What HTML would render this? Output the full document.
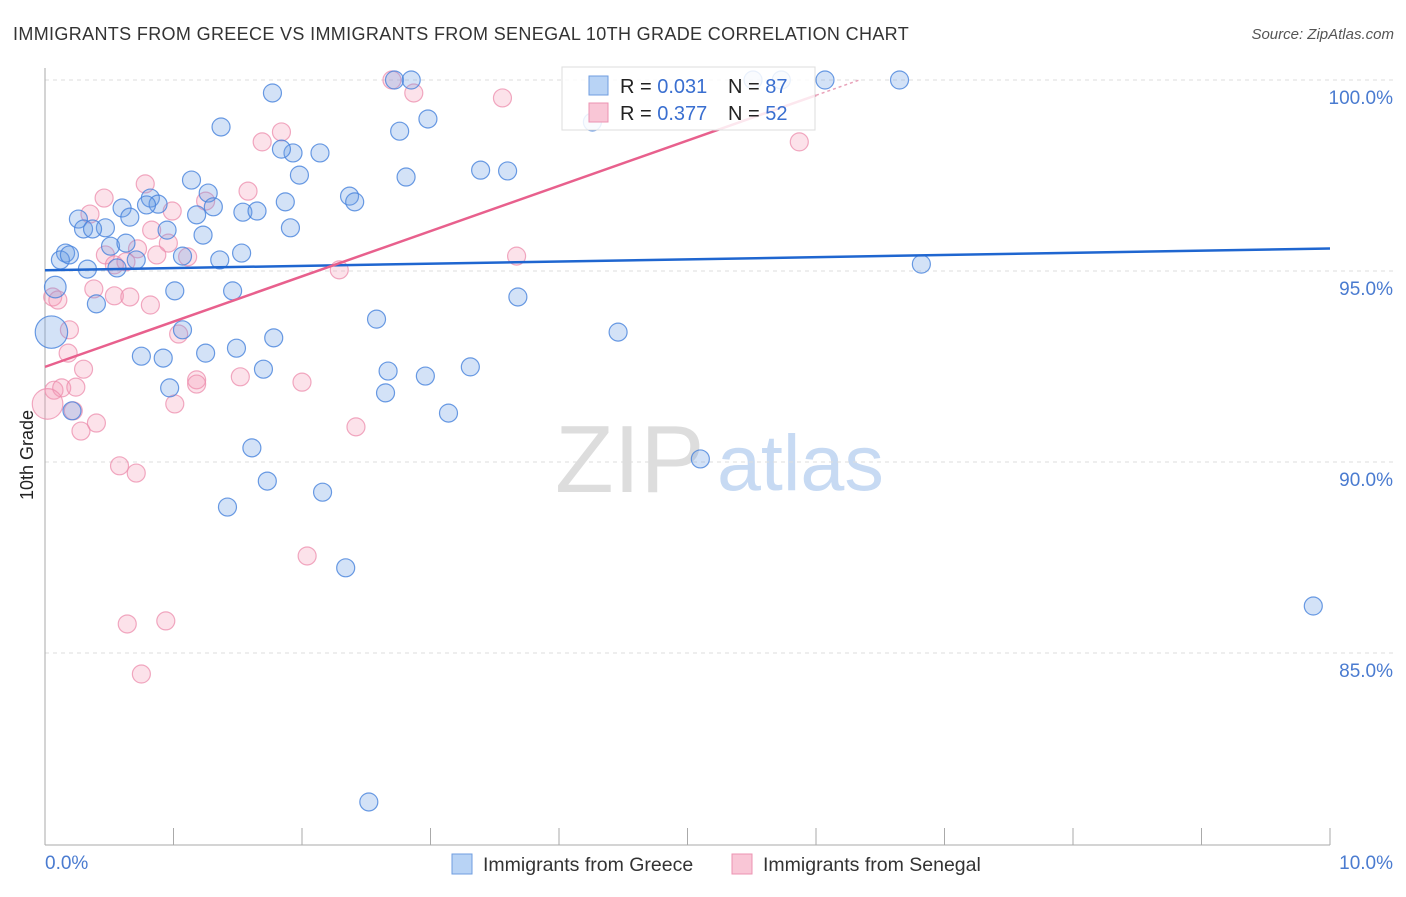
<!DOCTYPE html>
<html><head><meta charset="utf-8"><style>
body{margin:0;background:#fff;font-family:"Liberation Sans",sans-serif;}
svg text{font-family:"Liberation Sans",sans-serif;}
</style></head><body>
<svg id="chart" width="1406" height="892" xmlns="http://www.w3.org/2000/svg">
<text x="13" y="40" font-size="18" letter-spacing="0.35" fill="#333">IMMIGRANTS FROM GREECE VS IMMIGRANTS FROM SENEGAL 10TH GRADE CORRELATION CHART</text>
<text x="1394" y="39" font-size="15" fill="#555" font-style="italic" text-anchor="end">Source: ZipAtlas.com</text>
<text transform="translate(33,455) rotate(-90)" font-size="18" fill="#222" text-anchor="middle">10th Grade</text>
<g>
<text x="555" y="492" font-size="96" font-family="Liberation Serif" fill="#ddd">ZIP</text>
<text x="717" y="490" font-size="79" fill="#c7daf3">atlas</text>
</g>
<g id="grid"></g><g id="pts"></g><g id="lines"></g>
<g>
<rect x="562" y="67" width="253" height="63" fill="#fff" fill-opacity="0.85" stroke="#ddd"/>
<rect x="589" y="76" width="19" height="19" fill="#b8d3f5" stroke="#6f9ee0"/>
<rect x="589" y="103" width="19" height="19" fill="#f9c6d6" stroke="#ec93b2"/>
<text x="620" y="93" font-size="20" fill="#222">R = <tspan fill="#3a6fd0">0.031</tspan><tspan x="728">N = </tspan><tspan fill="#3a6fd0">87</tspan></text>
<text x="620" y="120" font-size="20" fill="#222">R = <tspan fill="#3a6fd0">0.377</tspan><tspan x="728">N = </tspan><tspan fill="#3a6fd0">52</tspan></text>
</g>
<g>
<rect x="452" y="854" width="20" height="20" fill="#b8d3f5" stroke="#6f9ee0"/>
<text x="483" y="871" font-size="19.5" fill="#333">Immigrants from Greece</text>
<rect x="732" y="854" width="20" height="20" fill="#f9c6d6" stroke="#ec93b2"/>
<text x="763" y="871" font-size="19.5" fill="#333">Immigrants from Senegal</text>
</g>
</svg>
<script>
const yTicks=[100,95,90,85];
const yTickLabels=["100.0%","95.0%","90.0%","85.0%"];
const xTickLabels=["0.0%","10.0%"];
const greeceX=[1.77,1.37,2.76,2.98,1.93,2.14,1.84,1.14,1.27,1.98,3.39,3.60,2.81,2.37,2.41,1.31,0.82,0.88,0.60,0.79,0.66,0.26,1.18,1.54,1.65,1.87,1.91,1.23,0.95,0.30,0.47,0.37,0.51,0.63,0.16,0.12,0.19,0.33,0.56,0.71,1.07,1.36,1.53,6.82,3.68,1.01,1.46,0.40,0.08,0.05,1.07,2.58,4.46,1.78,1.49,1.25,0.75,0.92,1.70,2.67,2.96,3.31,2.65,0.97,3.14,0.21,1.61,5.10,1.73,2.16,1.42,2.34,9.87,2.52,2.72,2.85,5.51,5.73,6.07,6.65,4.26];
const greeceY=[99.66,98.77,98.66,98.98,98.09,98.09,98.19,97.38,97.04,97.51,97.64,97.62,97.46,96.96,96.81,96.68,96.91,96.75,96.65,96.73,96.41,96.36,96.47,96.54,96.57,96.81,96.13,95.94,96.07,96.10,96.13,96.10,95.65,95.73,95.47,95.29,95.42,95.05,95.08,95.29,95.39,95.29,95.47,95.18,94.32,94.48,94.48,94.14,94.58,93.40,93.46,93.74,93.40,93.25,92.98,92.85,92.77,92.72,92.43,92.38,92.25,92.49,91.81,91.94,91.28,91.34,90.37,90.08,89.50,89.21,88.82,87.23,86.23,81.10,100,100,100,100,100,100,98.90];
const greeceSize=[1,1,1,1,1,1,1,1,1,1,1,1,1,1,1,1,1,1,1,1,1,1,1,1,1,1,1,1,1,1,1,1,1,1,1,1,1,1,1,1,1,1,1,1,1,1,1,1,1.2,1.8,1,1,1,1,1,1,1,1,1,1,1,1,1,1,1,1,1,1,1,1,1,1,1,1,1,1,1,1,1,1,1];
const senegalX=[2.70,2.87,3.56,1.84,1.69,5.87,0.78,1.58,0.46,0.35,0.99,1.25,0.83,0.96,0.72,0.47,0.54,0.63,0.87,1.11,2.29,3.67,0.06,0.38,0.54,0.66,0.82,0.10,0.19,1.04,0.18,0.30,0.07,0.13,0.24,0.02,1.18,1.18,1.52,2.00,1.01,0.22,0.40,0.28,2.42,0.58,0.71,2.04,0.64,0.94,0.75];
const senegalY=[100,99.66,99.53,98.64,98.38,98.38,97.28,97.09,96.91,96.49,96.57,96.83,96.07,95.73,95.58,95.42,95.16,95.24,95.42,95.37,95.03,95.39,94.32,94.53,94.35,94.32,94.11,94.24,93.46,93.35,92.85,92.43,91.88,91.94,91.96,91.52,92.15,92.04,92.23,92.09,91.52,91.34,91.02,90.81,90.92,89.90,89.71,87.54,85.76,85.84,84.45];
const senegalSize=[1,1,1,1,1,1,1,1,1,1,1,1,1,1,1,1,1,1,1,1,1,1,1,1,1,1,1,1,1,1,1,1,1,1,1,1.7,1,1,1,1,1,1,1,1,1,1,1,1,1,1,1];
const greeceTrend=[95.02,95.59];
const senegalTrend=[92.49,104.34];
const senegalTrendEndX=6.33;

const NS="http://www.w3.org/2000/svg";
const X=v=>45+v*128.5, Y=v=>80+(100-v)*38.2;
function mk(tag,at,parent){const e=document.createElementNS(NS,tag);for(const k in at)e.setAttribute(k,at[k]);parent.appendChild(e);return e;}
const grid=document.getElementById('grid');
yTicks.forEach((t,i)=>{
 const l=mk('line',{x1:45,x2:1393,y1:Y(t),y2:Y(t),stroke:'#ddd','stroke-dasharray':'4,4'},grid);
 
 
 const tx=mk('text',{x:1393,y:Y(t)+24,'font-size':19,fill:'#4a7bd0','text-anchor':'end'},grid);
 tx.textContent=yTickLabels[i];
 
 
});
const ax=mk('line',{x1:45,x2:45,y1:68,y2:845,stroke:'#aaa'},grid);


const bx=mk('line',{x1:45,x2:1330,y1:845,y2:845,stroke:'#aaa'},grid);


for(let i=1;i<=10;i++){const t=mk('line',{x1:X(i),x2:X(i),y1:828,y2:845,stroke:'#aaa'},grid);
 
 }
const xl0=mk('text',{x:45,y:869,'font-size':19,fill:'#4a7bd0'},grid);xl0.textContent=xTickLabels[0];


const xl1=mk('text',{x:1393,y:869,'font-size':19,fill:'#4a7bd0','text-anchor':'end'},grid);xl1.textContent=xTickLabels[1];


const pts=document.getElementById('pts');
senegalX.forEach((x,i)=>{const c=mk('circle',{cx:X(x),cy:Y(senegalY[i]),r:9*senegalSize[i],fill:'rgba(244,150,180,0.28)',stroke:'rgba(236,140,172,0.75)','stroke-width':1.2},pts);
 
 });
greeceX.forEach((x,i)=>{const c=mk('circle',{cx:X(x),cy:Y(greeceY[i]),r:9*greeceSize[i],fill:'rgba(110,160,230,0.3)',stroke:'rgba(70,130,220,0.8)','stroke-width':1.2},pts);
 
 });
const lines=document.getElementById('lines');
const gl=mk('line',{x1:X(0),y1:Y(greeceTrend[0]),x2:X(10),y2:Y(greeceTrend[1]),stroke:'#1f66d0','stroke-width':2.5},lines);


const sy=x=>senegalTrend[0]+(senegalTrend[1]-senegalTrend[0])*x/10;
const sl=mk('line',{x1:X(0),y1:Y(sy(0)),x2:X(6),y2:Y(sy(6)),stroke:'#e8608d','stroke-width':2.5},lines);


const sd=mk('line',{x1:X(6),y1:Y(sy(6)),x2:X(senegalTrendEndX),y2:Y(sy(senegalTrendEndX)),stroke:'#e8a0b8','stroke-width':1.5,'stroke-dasharray':'3,3'},lines);


</script>
</body></html>
